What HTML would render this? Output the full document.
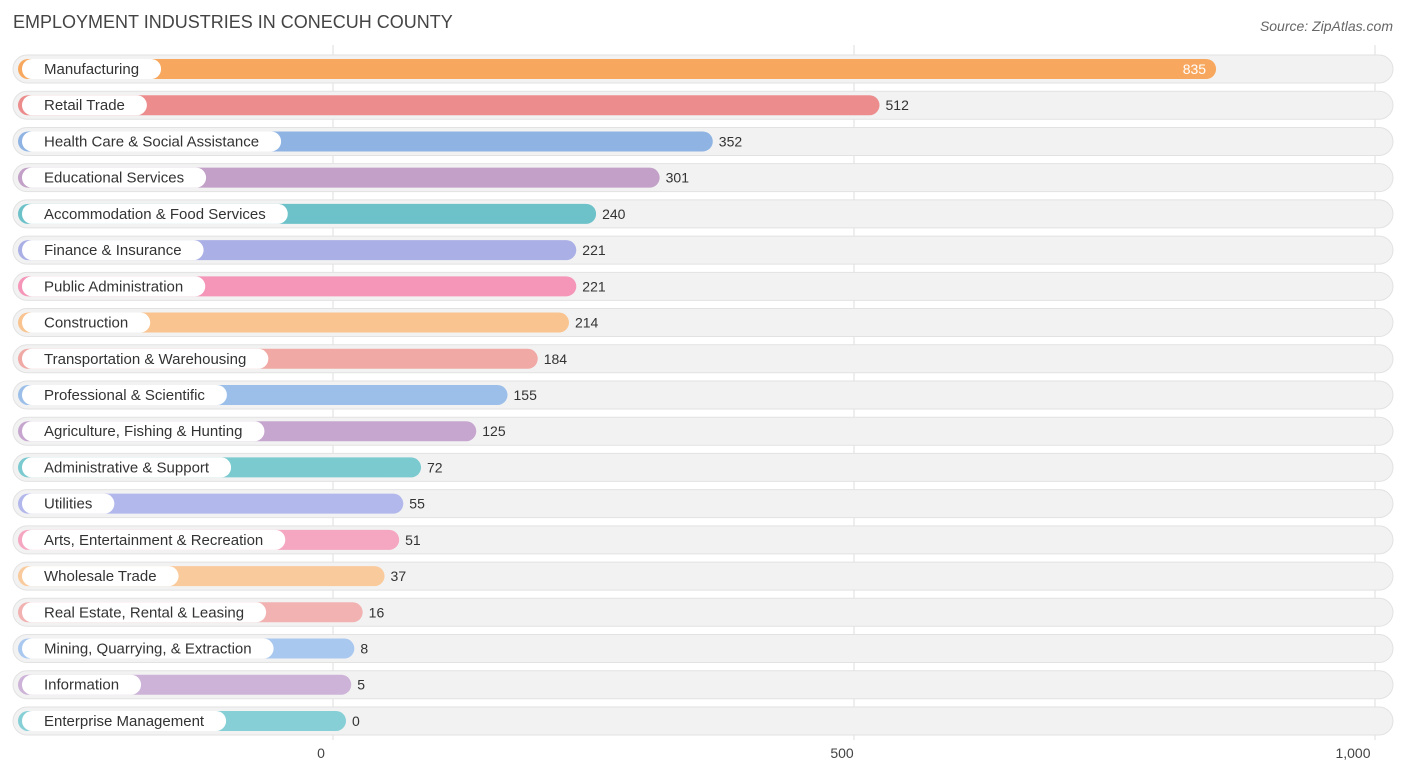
<!DOCTYPE html>
<html><head><meta charset="utf-8"><style>
body{margin:0;background:#fff;font-family:"Liberation Sans",sans-serif;}
svg text{font-family:"Liberation Sans",sans-serif;}
</style></head><body>
<svg width="1406" height="776" id="chart">
<text x="13" y="28" font-size="18" fill="#444">EMPLOYMENT INDUSTRIES IN CONECUH COUNTY</text>
<text x="1393" y="31" font-size="14" fill="#666" font-style="italic" text-anchor="end">Source: ZipAtlas.com</text>
<g id="grid"></g><g id="rows"></g><g id="ticks"></g>
</svg>
<script>
const categories=["Manufacturing","Retail Trade","Health Care & Social Assistance","Educational Services","Accommodation & Food Services","Finance & Insurance","Public Administration","Construction","Transportation & Warehousing","Professional & Scientific","Agriculture, Fishing & Hunting","Administrative & Support","Utilities","Arts, Entertainment & Recreation","Wholesale Trade","Real Estate, Rental & Leasing","Mining, Quarrying, & Extraction","Information","Enterprise Management"];
const values=[835,512,352,301,240,221,221,214,184,155,125,72,55,51,37,16,8,5,0];
const tickValues=[0,500,1000];
const tickLabels=["0","500","1,000"];
const colors=["#f8a85e","#ec8c8c","#8fb4e3","#c2a0c7","#6dc2c9","#aab0e6","#f596b8","#f9c48f","#f0a9a5","#9cbfe9","#c6a6cf","#7bcad0","#b3b8ec","#f5a6c0","#f9ca9b","#f1b2b1","#a9c8ef","#cdb3d8","#86cfd6"];
const NS="http://www.w3.org/2000/svg";
function x(v){return 333+v*1.042;}
function rowY(i){return 69+i*36.22;}
function mk(t,a,p){const e=document.createElementNS(NS,t);for(const k in a)e.setAttribute(k,a[k]);p.appendChild(e);return e;}
const grid=document.getElementById('grid'),rows=document.getElementById('rows'),ticks=document.getElementById('ticks');
tickValues.forEach((v,i)=>{
 const l=mk('line',{x1:x(v),x2:x(v),y1:45,y2:740,stroke:'#ddd','stroke-width':1},grid);
 
 
 const t=mk('text',{x:x(v)-(i==2?22:12),y:758,'font-size':14,fill:'#444','text-anchor':'middle'},ticks);
 t.textContent=tickLabels[i];
 
 
});
const meas=mk('text',{'font-size':15,x:-999,y:-999},rows);
categories.forEach((c,i)=>{
 const cy=rowY(i);
 const bg=mk('rect',{x:13,y:cy-14,width:1380,height:28,rx:14,fill:'#f2f2f2',stroke:'#e2e2e2'},rows);
 
 
 const end=x(values[i])+13;
 const bar=mk('rect',{x:18,y:cy-10,width:end-18,height:20,rx:10,fill:colors[i]},rows);
 
 
 meas.textContent=c;const w=meas.getComputedTextLength();
 const pill=mk('rect',{x:22,y:cy-10,width:w+44,height:20,rx:10,fill:'#fff'},rows);
 
 
 const lt=mk('text',{x:44,y:cy+5,'font-size':15,fill:'#333'},rows);
 lt.textContent=c;
 
 
 const inside=values[i]>700;
 const vt=mk('text',{x:inside?end-10:end+6,y:cy+5,'font-size':14,fill:inside?'#fff':'#333','text-anchor':inside?'end':'start'},rows);
 vt.textContent=values[i];
 
 
});
meas.remove();
</script>
</body></html>
